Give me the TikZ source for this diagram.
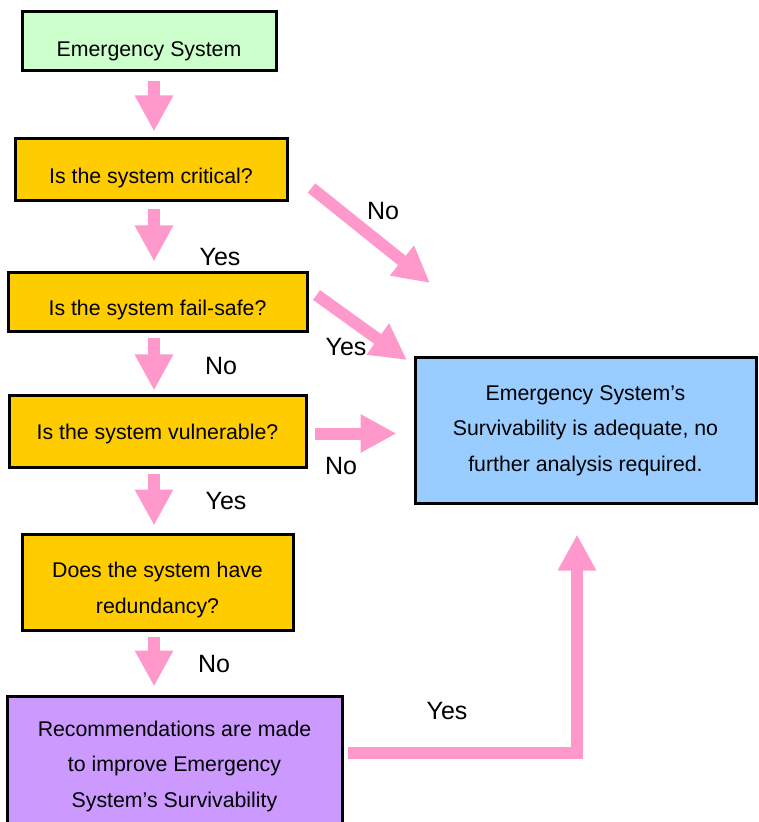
\documentclass[tikz,border=0pt]{standalone}
\usepackage{fontspec}
\setmainfont{Liberation Sans}
\usetikzlibrary{arrows.meta}
\definecolor{flowpink}{HTML}{FF99CC}
\definecolor{startgreen}{HTML}{CCFFCC}
\definecolor{askorange}{HTML}{FFCC00}
\definecolor{okblue}{HTML}{99CCFF}
\definecolor{fixpurple}{HTML}{CC99FF}
\newcommand{\boxdrop}[1]{\rule{0pt}{#1}}

\begin{document}
\begin{tikzpicture}[x=0.5pt,y=-0.5pt]
  \tikzstyle{every node}=[font=\fontsize{10.65}{17.75}\selectfont]
  \tikzstyle{box}=[draw,line width=1.5pt,align=center,inner sep=0pt]
  \tikzstyle{question}=[box,fill=askorange]
  \tikzstyle{answer}=[font=\fontsize{12.5}{15}\selectfont]
  \tikzstyle{flow}=[draw=flowpink,line width=6pt,-{Triangle[length=18pt,width=18pt]}]

  \useasboundingbox (0,0) rectangle (758,822);

  \node[box,fill=startgreen,minimum width=127pt,minimum height=29.5pt] (sys)    at (149,41.5)  {\boxdrop{16.8pt}Emergency System};
  \node[question,minimum width=136pt,minimum height=31pt]             (crit)   at (151,170)   {\boxdrop{15.8pt}Is the system critical?};
  \node[question,minimum width=149.5pt,minimum height=29.5pt]         (fail)   at (157.5,302.5) {\boxdrop{14.8pt}Is the system fail-safe?};
  \node[question,minimum width=148.5pt,minimum height=35.5pt]         (vuln)   at (157.5,431.5) {\boxdrop{9.8pt}Is the system vulnerable?};
  \node[question,minimum width=135.5pt,minimum height=48pt]           (redund) at (157.5,582)  {\boxdrop{15.8pt}Does the system have\\redundancy?};
  \node[box,fill=fixpurple,minimum width=167.5pt,minimum height=70pt] (recom)  at (174.5,766)  {Recommendations are made\\to improve Emergency\\System’s Survivability};
  \node[box,fill=okblue,minimum width=170.5pt,minimum height=72.5pt]  (adeq)   at (585.5,430.5) {Emergency System’s\\Survivability is adequate, no\\further analysis required.};

  \coordinate (col)  at (154,0);
  \coordinate (noend) at (430,283);
  \coordinate (yesend) at (407,360);

  \draw[flow,shorten <=4.5pt,shorten >=3pt]   (sys.south -| col)    to (crit.north -| col);
  \draw[flow,shorten <=3.5pt,shorten >=5pt]   (crit.south -| col)   to (fail.north -| col);
  \draw[flow,shorten <=2.5pt,shorten >=2pt]   (fail.south -| col)   to (vuln.north -| col);
  \draw[flow,shorten <=2.5pt,shorten >=3.5pt] (vuln.south -| col)   to (redund.north -| col);
  \draw[flow,shorten <=2.5pt,shorten >=4pt]   (redund.south -| col) to (recom.north -| col);

  \draw[flow] ([shift={(23,18)}]crit.east) to (noend);
  \draw[flow] ([shift={(8,-7.5)}]fail.east) to (yesend);
  \draw[flow,shorten <=3.5pt,shorten >=8.5pt] ([yshift=-1]vuln.east) to ([yshift=-1]vuln.east -| adeq.west);
  \draw[flow] ([shift={(4,-13.5)}]recom.east) -| ([shift={(-8.5,30)}]adeq.south);

  \node[answer] (no1)  at (383,211) {No};
  \node[answer] (yes1) at (220,257) {Yes};
  \node[answer] (yes2) at (346,347) {Yes};
  \node[answer] (no2)  at (221,366) {No};
  \node[answer] (no3)  at (341,466) {No};
  \node[answer] (yes3) at (226,501) {Yes};
  \node[answer] (no4)  at (214,664) {No};
  \node[answer] (yes4) at (447,711) {Yes};
\end{tikzpicture}
\end{document}
